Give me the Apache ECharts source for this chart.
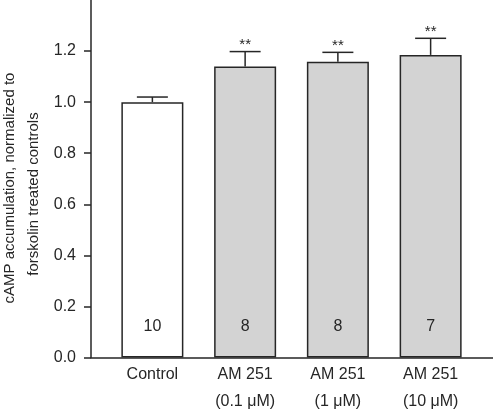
<!DOCTYPE html>
<html>
<head>
<meta charset="utf-8">
<script src="https://cdn.jsdelivr.net/npm/echarts@6/dist/echarts.min.js"></script>
<style>html,body{margin:0;padding:0;background:#fff;}#c{width:493px;height:410px;}</style>
</head>
<body>
<div id="c"></div>
<script>
var categories = ['Control', 'AM 251\n(0.1 \u03bcM)', 'AM 251\n(1 \u03bcM)', 'AM 251\n(10 \u03bcM)'];
var means = [1.0, 1.14, 1.158, 1.185];
var errorTops = [1.02, 1.198, 1.195, 1.25];
var counts = ['10', '8', '8', '7'];
var significance = ['', '**', '**', '**'];
var yTicks = [0, 0.2, 0.4, 0.6, 0.8, 1.0, 1.2];

var ink = '#262626';
var font = 'Liberation Sans, Arial, sans-serif';
var chart = echarts.init(document.getElementById('c'), null, {renderer: 'canvas'});

var barData = means.map(function (v, i) {
  return {
    value: v,
    itemStyle: {color: i === 0 ? '#ffffff' : '#d3d3d3'},
    label: {formatter: counts[i]}
  };
});
var errData = means.map(function (v, i) { return [i, v, errorTops[i]]; });

chart.setOption({
  animation: false,
  backgroundColor: '#ffffff',
  grid: [
    {left: 91, right: 0, top: 0, bottom: 52.5, outerBoundsMode: 'none', containLabel: false},
    {left: 106, width: 371, top: 0, bottom: 52.5, outerBoundsMode: 'none', containLabel: false}
  ],
  xAxis: [
    {type: 'value', gridIndex: 0, min: 0, max: 1,
     axisLine: {show: true, onZero: false, lineStyle: {color: ink, width: 1.5}},
     axisTick: {show: false}, axisLabel: {show: false}, splitLine: {show: false}},
    {type: 'category', gridIndex: 1, data: categories,
     axisLine: {show: false}, axisTick: {show: false},
     axisLabel: {color: ink, fontSize: 16, fontFamily: font,
                 lineHeight: 27, margin: 4, interval: 0}}
  ],
  yAxis: [
    {type: 'value', gridIndex: 0, min: 0, max: 1.4, interval: 0.2,
     axisLine: {show: true, lineStyle: {color: ink, width: 1.5}},
     axisTick: {show: true, length: 7, customValues: yTicks, lineStyle: {color: ink, width: 1.5}},
     axisLabel: {color: ink, fontSize: 16, margin: 15, fontFamily: font,
                 customValues: yTicks,
                 formatter: function (v) { return v.toFixed(1); }},
     splitLine: {show: false}},
    {type: 'value', gridIndex: 1, min: 0, max: 1.4, show: false}
  ],
  series: [
    {type: 'bar', xAxisIndex: 1, yAxisIndex: 1, data: barData, barWidth: 62,
     itemStyle: {borderColor: ink, borderWidth: 1.5},
     label: {show: true, position: 'insideBottom', distance: 23, color: ink, fontSize: 16,
             fontFamily: font}},
    {type: 'custom', xAxisIndex: 1, yAxisIndex: 1, data: errData,
     renderItem: function (params, api) {
       var i = api.value(0);
       var base = api.coord([i, api.value(1)]);
       var top = api.coord([i, api.value(2)]);
       var half = 15.5;
       var style = {stroke: ink, lineWidth: 1.5};
       var children = [
         {type: 'line', shape: {x1: base[0], y1: base[1], x2: top[0], y2: top[1]}, style: style},
         {type: 'line', shape: {x1: top[0] - half, y1: top[1], x2: top[0] + half, y2: top[1]}, style: style}
       ];
       if (significance[params.dataIndex]) {
         children.push({type: 'text', x: top[0], y: top[1] + 1,
           style: {text: significance[params.dataIndex], fill: ink, fontSize: 15,
                   fontFamily: font, align: 'center', verticalAlign: 'bottom'}});
       }
       return {type: 'group', children: children};
     }}
  ],
  graphic: [
    {type: 'text', x: 10, y: 188, rotation: Math.PI / 2,
     style: {text: 'cAMP accumulation, normalized to', fill: ink, fontSize: 15,
             fontFamily: font, align: 'center', verticalAlign: 'middle'}},
    {type: 'text', x: 34, y: 194, rotation: Math.PI / 2,
     style: {text: 'forskolin treated controls', fill: ink, fontSize: 15,
             fontFamily: font, align: 'center', verticalAlign: 'middle'}}
  ]
});
</script>
</body>
</html>
